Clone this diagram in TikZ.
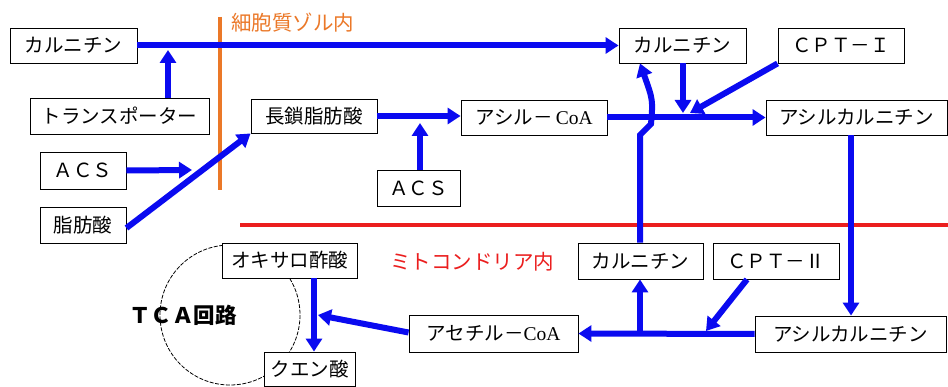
\documentclass[tikz,border=0pt]{standalone}
\usepackage{fontspec}
\setmainfont{Noto Sans CJK JP}
\newfontfamily\coafont{Liberation Serif}
\usetikzlibrary{arrows.meta}
\definecolor{fblue}{RGB}{10,10,240}
\definecolor{forange}{RGB}{235,120,40}
\definecolor{fred}{RGB}{235,30,30}
\tikzset{
  box/.style={draw=black, line width=0.9pt, fill=white, inner sep=0pt,
    font=\fontsize{19.5}{22}\selectfont, anchor=center},
  arr/.style={draw=fblue, line width=6pt,
    -{Triangle[width=16pt,length=13pt]}},
}
\newcommand{\coa}{{\coafont CoA}}
\begin{document}
\begin{tikzpicture}[x=1pt,y=-1pt]
\useasboundingbox (0,0) rectangle (948,387);
\fill[white] (0,0) rectangle (948,387);
% TCA cycle circle
\draw[black, line width=0.8pt, dash pattern=on 4pt off 1.5pt] (230,315) circle (70);
% membranes
\draw[forange, line width=4pt] (220,17) coordinate (oA) -- (220,190) coordinate (oB);
\draw[fred, line width=4pt] (240,225) coordinate (rA) -- (948,225) coordinate (rB);
\node[text=forange, font=\fontsize{20.5}{22}\selectfont, anchor=west, inner sep=0pt] (cyto) at (231,23) {細胞質ゾル内};
\node[text=fred, font=\fontsize{20.5}{22}\selectfont, anchor=west, inner sep=0pt] (mito) at (390,262) {ミトコンドリア内};
\node[font=\fontsize{21.5}{24}\selectfont\bfseries, inner sep=0pt] (tca) at (183,315) {ＴＣＡ回路};
% boxes
\node[box, minimum width=127, minimum height=35] (carn1) at (73.5,45.5) {カルニチン};
\node[box, minimum width=179, minimum height=36] (trans) at (119.5,116) {トランスポーター};
\node[box, minimum width=126, minimum height=34] (lcfa) at (314,116) {長鎖脂肪酸};
\node[box, minimum width=86, minimum height=37] (acs1) at (83,170.5) {ＡＣＳ};
\node[box, minimum width=86, minimum height=36] (fa) at (83,225) {脂肪酸};
\node[box, minimum width=83, minimum height=36] (acs2) at (418.5,188) {ＡＣＳ};
\node[box, minimum width=146, minimum height=35] (acylcoa) at (534,117.5) {アシル－\,\coa};
\node[box, minimum width=127, minimum height=35] (carn2) at (682.5,45.5) {カルニチン};
\node[box, minimum width=126, minimum height=35] (cpt1) at (841,45.5) {ＣＰＴ－Ｉ};
\node[box, minimum width=181, minimum height=35] (acylcarn1) at (856.5,117.5) {アシルカルニチン};
\node[box, minimum width=125, minimum height=36] (carn3) at (640.5,261) {カルニチン};
\node[box, minimum width=126, minimum height=36] (cpt2) at (776,261) {ＣＰＴ－Ⅱ};
\node[box, minimum width=191, minimum height=36] (acylcarn2) at (850.5,334) {アシルカルニチン};
\node[box, minimum width=169, minimum height=37] (acetyl) at (493.5,333.5) {アセチル－\coa};
\node[box, minimum width=135, minimum height=35] (oxalo) at (289.5,260.5) {オキサロ酢酸};
\node[box, minimum width=91, minimum height=34] (citrate) at (309.5,369) {クエン酸};
% helper coordinates
\coordinate (tp) at (168,50);
\coordinate (acsTip) at (192,170);
\coordinate (acs2Tip) at (420,123);
\coordinate (j1) at (683,113);
\coordinate (j2) at (690,113);
\coordinate (bendA) at (640,135);
\coordinate (bendB) at (651,124);
\coordinate (j3) at (640,334);
\coordinate (j4) at (706,331);
\coordinate (tcaTip) at (318,315);
% connectors
\draw[arr] (carn1.east) -- (carn2.west);
\draw[arr] (trans.north -| tp) -- (tp);
\draw[arr] (acs1.east) -- (acsTip);
\draw[arr] (fa.east) ++(0,3) -- (lcfa.south west);
\draw[arr] (lcfa.east) -- (lcfa.east -| acylcoa.west);
\draw[arr] (acs2.north -| acs2Tip) -- (acs2Tip);
\draw[arr] (acylcoa.east) -- (acylcarn1.west);
\draw[arr] (carn2.south -| j1) -- (j1);
\draw[arr] (cpt1.south west) -- (j2);
\draw[arr] (carn3.north -| bendA) -- (bendA) -- (bendB) .. controls (653,100) .. (carn2.south -| 640,0);
\draw[arr] (acylcarn1.south -| 851,0) -- (acylcarn2.north -| 851,0);
\draw[arr] (acylcarn2.west) -- (acetyl.east);
\draw[arr] (j3) -- (carn3.south -| j3);
\draw[arr] (cpt2.south -| 747,0) -- (j4);
\draw[arr] (acetyl.west) ++(0,-1) -- (tcaTip);
\draw[arr] (oxalo.south -| 314,0) -- (citrate.north -| 314,0);
\end{tikzpicture}
\end{document}
